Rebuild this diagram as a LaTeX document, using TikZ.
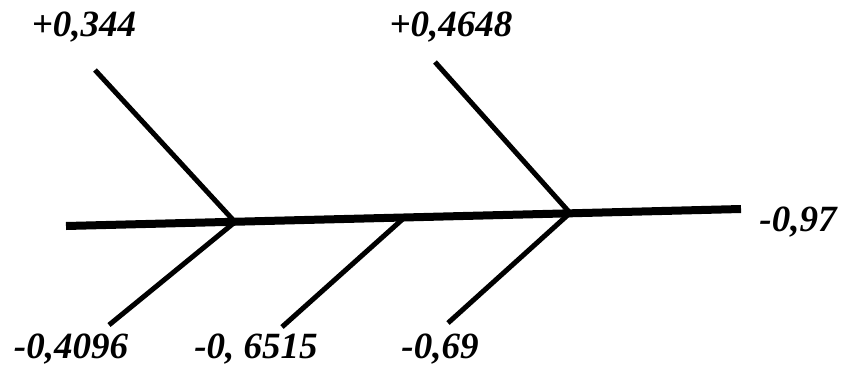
\documentclass[tikz,border=0pt]{standalone}
\usepackage{fontspec}
\setmainfont{Liberation Serif}
\usepackage{tikz}
\usetikzlibrary{calc, positioning}
\tikzset{
    spine/.style={line width=8pt, black},
    bone/.style={line width=5pt, black},
    val/.style={font=\fontsize{37}{40}\selectfont\bfseries\itshape, inner sep=0pt, anchor=center},
}

\begin{document}
\begin{tikzpicture}[x=1pt, y=-1pt]
    \useasboundingbox (0,0) rectangle (842,367);
    % spine and junctions
    \coordinate (s0) at (66,226);
    \coordinate (s1) at (741,209);
    \coordinate (j1) at (235,222);
    \coordinate (j2) at (405,217);
    \coordinate (j3) at (570,213);
    % free ends of the bones
    \coordinate (t1) at (95,70);
    \coordinate (t2) at (435,62);
    \coordinate (b1) at (109,325);
    \coordinate (b2) at (282,327);
    \coordinate (b3) at (448,323);
    \node[val] (v344) at (84,27) {+0,344};
    \node[val] (v4648) at (451,27) {+0,4648};
    \node[val] (v97) at (798,222) {-0,97};
    \node[val] (v4096) at (71,349) {-0,4096};
    \node[val] (v6515) at (256,349) {-0, 6515};
    \node[val] (v69) at (440,349) {-0,69};
    \draw[spine] (s0) -- (s1);
    \draw[bone] (t1) -- (j1);
    \draw[bone] (t2) -- (j3);
    \draw[bone] (j1) -- (b1);
    \draw[bone] (j2) -- (b2);
    \draw[bone] (j3) -- (b3);
\end{tikzpicture}
\end{document}
